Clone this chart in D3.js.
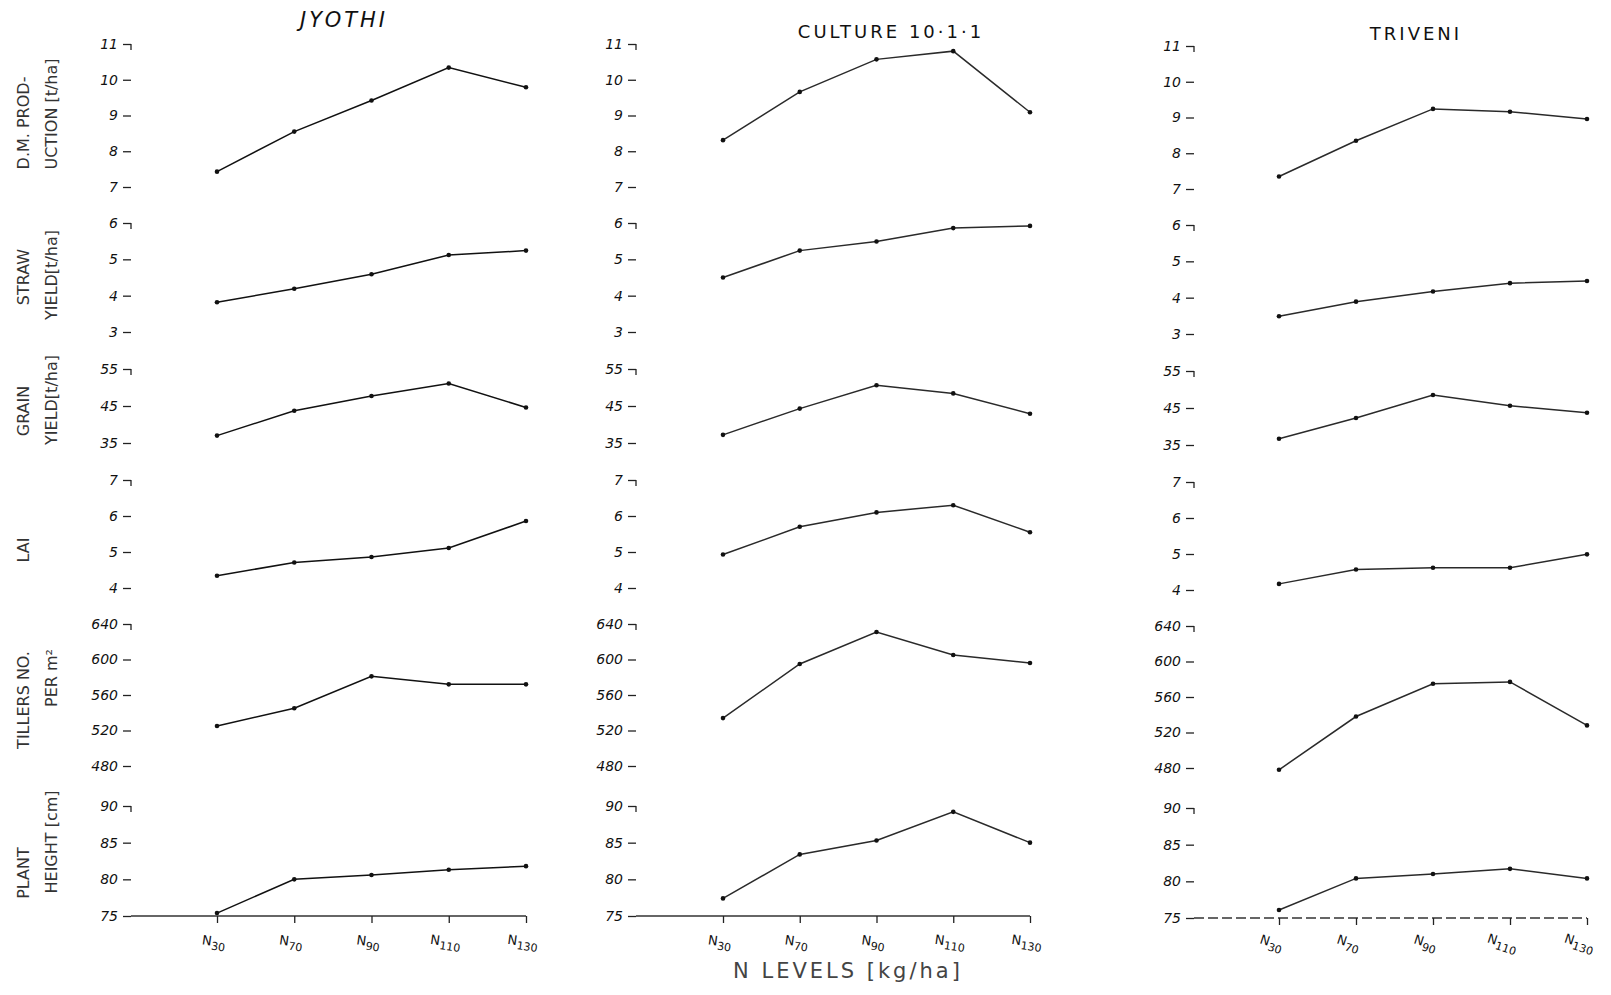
<!DOCTYPE html>
<html>
<head>
<meta charset="utf-8">
<script src="https://cdn.jsdelivr.net/npm/d3@7"></script>
<style>
  body { margin: 0; background: #fff; }
  text { font-family: "DejaVu Sans", sans-serif; fill: #111; }
</style>
</head>
<body>
<div id="chart"></div>
<script>
// nitrogen levels (kg/ha) and varieties
const nLevels = ["30", "70", "90", "110", "130"];
const varieties = ["JYOTHI", "CULTURE 10·1·1", "TRIVENI"];

// one row per variety: Jyothi, Culture 10-1-1, Triveni
const dmProduction = [[7.43, 8.55, 9.42, 10.34, 9.79], [8.31, 9.66, 10.57, 10.8, 9.09], [7.35, 8.35, 9.24, 9.16, 8.96]];
const strawYield   = [[3.82, 4.19, 4.59, 5.12, 5.24], [4.5, 5.24, 5.49, 5.86, 5.92], [3.49, 3.89, 4.17, 4.4, 4.46]];
const grainYield   = [[37.0, 43.7, 47.7, 51.1, 44.6], [37.2, 44.3, 50.6, 48.4, 42.9], [36.7, 42.3, 48.5, 45.6, 43.7]];
const laiValues    = [[4.34, 4.71, 4.86, 5.11, 5.86], [4.93, 5.7, 6.1, 6.3, 5.55], [4.17, 4.57, 4.62, 4.62, 4.99]];
const tillers      = [[525, 545, 581, 572, 572], [534, 595, 631, 605, 596], [478, 538, 575, 577, 528]];
const plantHeight  = [[75.4, 80.0, 80.6, 81.3, 81.8], [77.4, 83.4, 85.3, 89.2, 85.0], [76.1, 80.4, 81.0, 81.7, 80.4]];

// tick labels per row
const dmTicks = [11, 10, 9, 8, 7];
const strawTicks = [6, 5, 4, 3];
const grainTicks = [55, 45, 35];
const laiTicks = [7, 6, 5, 4];
const tillerTicks = [640, 600, 560, 520, 480];
const heightTicks = [90, 85, 80, 75];

const rowLabels = [
  ["D.M. PROD-", "UCTION [t/ha]"],
  ["STRAW", "YIELD[t/ha]"],
  ["GRAIN", "YIELD[t/ha]"],
  ["LAI"],
  ["TILLERS NO.", "PER m²"],
  ["PLANT", "HEIGHT [cm]"]
];

const width = 1611, height = 995;
const svg = d3.select("#chart").append("svg")
  .attr("width", width).attr("height", height);

// layout
const rows = [
  {data: dmProduction, ticks: dmTicks, top: 44, bottom: 187, labelY: [123, 114]},
  {data: strawYield, ticks: strawTicks, top: 223, bottom: 332, labelY: [277, 275]},
  {data: grainYield, ticks: grainTicks, top: 369, bottom: 443, labelY: [411, 400]},
  {data: laiValues, ticks: laiTicks, top: 480, bottom: 588, labelY: [550]},
  {data: tillers, ticks: tillerTicks, top: 624, bottom: 766, labelY: [700, 678]},
  {data: plantHeight, ticks: heightTicks, top: 806, bottom: 916, labelY: [873, 842]}
];
const cols = [
  {axisX: 131, x0: 217, x1: 526, shift: 0, rot: 8},
  {axisX: 636, x0: 723, x1: 1030, shift: 0, rot: 8},
  {axisX: 1194, x0: 1279, x1: 1587, shift: 2, rot: 18}
];
const titlePos = [[344, 27], [891, 38], [1416, 40]];

// column titles
svg.selectAll(".title")
  .data(varieties)
  .join("text")
    .attr("x", (d, i) => titlePos[i][0])
    .attr("y", (d, i) => titlePos[i][1])
    .attr("text-anchor", "middle")
    .style("font-size", (d, i) => i == 0 ? "21px" : "18px")
    .style("font-style", (d, i) => i == 0 ? "italic" : "normal")
    .style("letter-spacing", "3px")
    .text(d => d);

// row labels, rotated
rows.forEach((r, ri) => {
  rowLabels[ri].forEach((t, li) => {
    const x = li == 0 ? 29 : 57;
    svg.append("text")
      .attr("transform", `translate(${x},${r.labelY[li]}) rotate(-90)`)
      .attr("text-anchor", "middle")
      .style("font-size", "16px")
      .style("fill", "#333")
      .text(t);
  });
});

cols.forEach((c, ci) => {
  const x = d3.scalePoint().domain(nLevels).range([c.x0, c.x1]);

  rows.forEach((r, ri) => {
    const ext = d3.extent(r.ticks);
    const y = d3.scaleLinear().domain(ext).range([r.bottom + c.shift, r.top + c.shift]);

    const ax = svg.append("g")
      .attr("transform", `translate(${c.axisX},0)`)
      .call(d3.axisLeft(y).tickValues(r.ticks).tickFormat(d3.format("d")).tickSize(8).tickPadding(5));
    ax.select(".domain").remove();
    ax.selectAll("line").attr("stroke", "#222").attr("stroke-width", 1.3);
    ax.selectAll("text")
      .style("font-size", "14px")
      .style("font-style", "italic")
      .style("font-family", "DejaVu Sans, sans-serif")
      .attr("fill", "#111");
    // little hook on the top tick
    ax.append("line")
      .attr("x1", 0).attr("x2", 0)
      .attr("y1", y(ext[1])).attr("y2", y(ext[1]) + 6)
      .attr("stroke", "#222").attr("stroke-width", 1.3);

    const line = d3.line()
      .x((d, i) => x(nLevels[i]))
      .y(d => y(d));

    svg.append("path")
      .datum(r.data[ci])
      .attr("fill", "none")
      .attr("stroke", ci == 0 ? "#111" : "#2a2a2a")
      .attr("stroke-width", 1.5)
      .attr("d", line);

    svg.append("g")
      .selectAll("circle")
      .data(r.data[ci])
      .join("circle")
        .attr("cx", (d, i) => x(nLevels[i]))
        .attr("cy", d => y(d))
        .attr("r", 2.3)
        .attr("fill", "#111");

    // baseline along the bottom of the last row
    if (ri == rows.length - 1) {
      const base = y(ext[0]);
      svg.append("line")
        .attr("x1", c.axisX).attr("x2", c.x1)
        .attr("y1", base).attr("y2", base)
        .attr("stroke", "#333").attr("stroke-width", 1.3)
        .attr("stroke-dasharray", ci == 2 ? "10,4" : null);

      const xa = svg.append("g")
        .attr("transform", `translate(0,${base})`)
        .call(d3.axisBottom(x).tickSize(7).tickPadding(14));
      xa.select(".domain").remove();
      xa.selectAll("line").attr("stroke", "#222").attr("stroke-width", 1.3);
      xa.selectAll("text")
        .text(null)
        .attr("transform", `rotate(${c.rot})`)
        .style("font-size", "13px")
        .attr("fill", "#111")
        .each(function(d) {
          const t = d3.select(this);
          t.append("tspan").text("N");
          t.append("tspan").attr("dy", 4).style("font-size", "11px").text(d);
        });
    }
  });
});

// shared x-axis title
svg.append("text")
  .attr("x", 848).attr("y", 978)
  .attr("text-anchor", "middle")
  .style("font-size", "21px")
  .style("letter-spacing", "3px")
  .style("fill", "#444")
  .text("N   LEVELS  [kg/ha]");
</script>
</body>
</html>
